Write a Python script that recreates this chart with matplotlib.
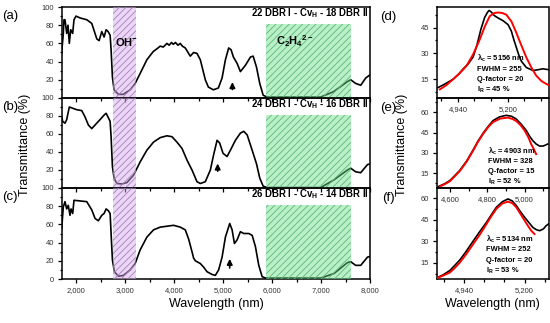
import matplotlib
matplotlib.use('Agg')
import matplotlib.pyplot as plt
from matplotlib.ticker import MultipleLocator, FixedLocator, FuncFormatter
from matplotlib.patches import Rectangle

plt.rcParams['font.family'] = ['Liberation Sans', 'DejaVu Sans']
plt.rcParams['mathtext.fontset'] = 'custom'
plt.rcParams['mathtext.rm'] = 'Liberation Sans:bold'
plt.rcParams['mathtext.it'] = 'Liberation Sans:bold'
plt.rcParams['mathtext.bf'] = 'Liberation Sans:bold'
plt.rcParams['mathtext.default'] = 'bf'
plt.rcParams['hatch.linewidth'] = 0.6

# ---- left spectra (nm, %) ----
wl_a = [1693, 1740, 1754, 1775, 1810, 1836, 1863, 1892, 1932, 1959, 2000, 2082, 2150, 2219, 2321,
        2424, 2471, 2526, 2573, 2614, 2655, 2696, 2716, 2743, 2777, 2865, 2962, 3105, 3207, 3309,
        3446, 3575, 3650, 3719, 3780, 3856, 3900, 3950, 3985, 4030, 4080, 4128, 4170, 4230, 4332,
        4400, 4469, 4537, 4639, 4701, 4803, 4905, 4981, 5049, 5116, 5165, 5212, 5288, 5355, 5458,
        5560, 5615, 5683, 5750, 5820, 5902, 6992, 7258, 7539, 7606, 7708, 7811, 7913, 8015]
tr_a = [42, 70, 86, 86, 71, 80, 60, 75, 71, 86, 90, 88, 87, 86, 82,
        65, 63, 73, 67, 75, 73, 69, 53, 23, 9, 4, 4, 9, 16, 27,
        42, 51, 54, 57, 56, 60, 58, 61, 59, 61, 58, 60, 57, 55, 46,
        50, 49, 42, 20, 12, 9, 11, 22, 42, 55, 53, 45, 38, 29, 36,
        45, 46, 34, 16, 3, 1, 1, 7, 18, 20, 16, 14, 22, 26]

wl_b = [1693, 1728, 1775, 1810, 1863, 1912, 2014, 2117, 2184, 2252, 2321, 2389, 2491, 2573, 2614,
        2661, 2696, 2716, 2743, 2777, 2833, 2935, 3037, 3172, 3309, 3446, 3582, 3719, 3856, 3958,
        4060, 4163, 4265, 4367, 4469, 4537, 4639, 4742, 4809, 4879, 4932, 5001, 5083, 5151, 5253,
        5355, 5423, 5493, 5595, 5683, 5750, 5820, 5902, 6992, 7264, 7539, 7606, 7708, 7811, 7948, 8015]
tr_b = [83, 74, 72, 76, 90, 89, 87, 86, 79, 70, 66, 70, 76, 81, 83,
        78, 74, 57, 24, 11, 5, 4.5, 6, 14, 29, 42, 51, 56, 58, 57,
        51, 44, 31, 20, 7, 5, 7, 20, 37, 53, 50, 38.5, 35, 42, 53,
        61, 63, 59, 42, 27, 11, 2, 0.5, 0.5, 9, 20, 22, 18, 17, 26, 27]

wl_c = [1707, 1740, 1775, 1810, 1842, 1877, 1898, 1932, 1959, 2047, 2219, 2321, 2389, 2456, 2526,
        2573, 2614, 2661, 2696, 2716, 2743, 2784, 2865, 2968, 3105, 3207, 3309, 3446, 3582, 3719,
        3856, 3991, 4128, 4230, 4298, 4367, 4400, 4435, 4537, 4605, 4674, 4776, 4844, 4911, 4981,
        5049, 5137, 5186, 5233, 5288, 5355, 5423, 5525, 5595, 5662, 5730, 5799, 5867, 6992, 7264,
        7539, 7606, 7708, 7811, 7948, 8015]
tr_c = [55, 79, 85, 77, 81, 70, 77, 72, 86.5, 86, 85, 76, 66.5, 64, 70,
        72, 77, 75, 72, 50, 21, 8, 3, 4, 10, 17, 32, 46, 54, 57,
        58, 59, 57, 54, 44, 30, 23, 20, 17, 13, 8, 5, 4, 10, 24,
        46, 61, 54, 39, 43, 52, 50, 50, 48, 35.5, 15, 2.5, 1, 1, 6,
        18, 19, 15, 15, 24, 25]

left_wl = [wl_a, wl_b, wl_c]
left_tr = [tr_a, tr_b, tr_c]
left_tags = ['(a)', '(b)', '(c)']
stack_labels = ['22 DBR I - Cv$_H$ - 18 DBR II',
                '24 DBR I - Cv$_H$ - 16 DBR II',
                '26 DBR I - Cv$_H$ - 14 DBR II']
arrow_x = [5192, 4891, 5137]
arrow_tail = [6.3, 15.6, 9.1]
arrow_head = [20.5, 30.3, 25.2]
oh_band = (2757, 3228)
c2h4_band = (5887, 7606)

# ---- right zooms: measured (black) and fit (red) ----
d_wl = [4835, 4870, 4916, 4945, 4968, 4995, 5020, 5040, 5060, 5080, 5095, 5103, 5115, 5130, 5150,
        5176, 5202, 5219, 5232, 5245, 5258, 5271, 5297, 5332, 5360, 5384, 5413]
d_tr = [10, 12, 15, 18, 21, 24, 28, 35, 44, 51, 54, 55, 54, 52, 50.6,
        49, 46.7, 43, 38, 33.5, 29, 25.5, 21.8, 20, 20.5, 21, 20.5]
d_fit_wl = [4846, 4880, 4916, 4950, 4985, 5020, 5054, 5080, 5106, 5130, 5150, 5172, 5193, 5220,
            5245, 5270, 5297, 5325, 5349, 5375, 5392, 5413]
d_fit_tr = [9, 11.5, 15, 18.5, 22.7, 29.5, 38, 45.5, 51.6, 53.5, 53.8, 53.5, 52.5, 48.5,
            42, 35, 27.7, 21.5, 17, 14, 12.8, 11.5]

e_wl = [4538, 4570, 4600, 4625, 4653, 4690, 4724, 4750, 4778, 4805, 4831, 4865, 4902, 4930, 4955,
        4983, 5009, 5028, 5044, 5062, 5080, 5100, 5124]
e_tr = [5, 7, 9.5, 13, 17, 24, 32, 38.5, 44.5, 49.5, 53.8, 56.5, 57.7, 57, 55,
        51, 46.5, 42, 39, 36.5, 35, 35, 36.5]
e_fit_wl = [4547, 4575, 4600, 4625, 4653, 4690, 4724, 4750, 4778, 4805, 4831, 4870, 4911, 4935,
            4955, 4978, 5000, 5020, 5035, 5050, 5062]
e_fit_tr = [5.2, 7, 9, 12.5, 16.5, 23.5, 31.5, 38, 44, 49, 52.7, 55.3, 56, 55,
            53.5, 50.5, 46.5, 41.5, 36.5, 32.5, 29]

f_wl = [4824, 4850, 4880, 4900, 4923, 4948, 4973, 5005, 5037, 5060, 5079, 5105, 5129, 5147, 5164,
        5182, 5200, 5218, 5235, 5250, 5264, 5280, 5292, 5302]
f_tr = [4.5, 6.5, 9.6, 13, 17, 22.5, 28.5, 36, 43.2, 49, 53.6, 57.5, 59.4, 58, 54.8,
        50.5, 46.6, 43, 39.6, 38, 37.3, 38.5, 40.8, 42]
f_fit_wl = [4824, 4850, 4880, 4900, 4923, 4950, 4980, 5010, 5037, 5060, 5079, 5105, 5129, 5147,
            5164, 5182, 5200, 5215, 5228, 5242]
f_fit_tr = [4.3, 6, 8.2, 11.2, 15.2, 21, 28, 35, 42, 48, 52.5, 56.3, 57.5, 56.5,
            53.6, 49, 44.3, 40.5, 37.3, 35]

right_data = [(d_wl, d_tr, d_fit_wl, d_fit_tr), (e_wl, e_tr, e_fit_wl, e_fit_tr),
              (f_wl, f_tr, f_fit_wl, f_fit_tr)]
right_tags = ['(d)', '(e)', '(f)']
right_xlim = [(4831, 5413), (4531, 5128), (4825, 5302)]
right_ylim = [(4, 57), (4, 70.5), (3.7, 67)]
right_xmajor = [[4940, 5200], [4600, 4800, 5000], [4940, 5200]]
right_xminor = [260 / 3, 100, 260 / 3]
fit_info = [['λ$_c$ = 5156 nm', 'FWHM = 255', 'Q-factor = 20', 'I$_R$ = 45 %'],
            ['λ$_c$ = 4903 nm', 'FWHM = 328', 'Q-factor = 15', 'I$_R$ = 52 %'],
            ['λ$_c$ = 5134 nm', 'FWHM = 252', 'Q-factor = 20', 'I$_R$ = 53 %']]
info_x = [0.36, 0.457, 0.44]
info_y = [[0.43, 0.31, 0.2, 0.09], [0.41, 0.295, 0.185, 0.07], [0.44, 0.32, 0.2, 0.09]]

W, H = 550.0, 323.0
left_rows = [(7, 98), (98, 188), (188, 279)]

fig = plt.figure(figsize=(5.5, 3.23), dpi=100)
thousands = FuncFormatter(lambda v, p: f'{v:,.0f}')


def style_ax(ax):
    for s in ax.spines.values():
        s.set_linewidth(1.1)
    ax.set_facecolor('none')
    ax.tick_params(which='both', direction='out', labelsize=5.5, width=0.9, pad=2.5,
                   labelcolor='#333333')
    ax.tick_params(which='major', length=3)
    ax.tick_params(which='minor', length=1.8)


for i in range(3):
    top, bot = left_rows[i]
    ax = fig.add_axes([62 / W, 1 - bot / H, 308 / W, (bot - top) / H])
    style_ax(ax)
    ax.plot(left_wl[i], left_tr[i], color='black', lw=1.2, zorder=2)
    ax.axvspan(*oh_band, facecolor='#d3a7e9', alpha=0.45, lw=0, zorder=3)
    ax.axvspan(*oh_band, facecolor='none', edgecolor='#a57fbd', hatch='/////', lw=0, zorder=4)
    ax.add_patch(Rectangle((c2h4_band[0], 0), c2h4_band[1] - c2h4_band[0], 81,
                           facecolor='#64de85', alpha=0.45, lw=0, zorder=3))
    ax.add_patch(Rectangle((c2h4_band[0], 0), c2h4_band[1] - c2h4_band[0], 81,
                           facecolor='none', edgecolor='#5fb57a', hatch='/////', lw=0, zorder=4))
    ax.annotate('', xy=(arrow_x[i], arrow_head[i]), xytext=(arrow_x[i], arrow_tail[i]),
                arrowprops=dict(arrowstyle='-|>', color='black', lw=1.2, mutation_scale=8),
                zorder=5)
    ax.text(0.995, 0.93, stack_labels[i], transform=ax.transAxes, ha='right', va='center',
            fontsize=6.9, fontweight='bold', zorder=6)
    ax.set_xlim(1714, 8000)
    ax.set_ylim(0, 100)
    ax.xaxis.set_major_locator(MultipleLocator(1000))
    ax.xaxis.set_minor_locator(MultipleLocator(500))
    ax.xaxis.set_major_formatter(thousands)
    ax.yaxis.set_major_locator(FixedLocator([0, 20, 40, 60, 80, 100] if i == 2 else [20, 40, 60, 80, 100]))
    ax.yaxis.set_minor_locator(MultipleLocator(10))
    if i < 2:
        ax.tick_params(axis='x', labelbottom=False)
    fig.text(10 / W, 1 - (top + 9) / H, left_tags[i], fontsize=9.5, ha='center', va='center')
    if i == 0:
        ax.text(2800, 62, 'OH$^{-}$', fontsize=8, fontweight='bold', ha='left', va='center', zorder=6)
        ax.text(6080, 62, 'C$_2$H$_4$$^{2-}$', fontsize=8, fontweight='bold', ha='left',
                va='center', zorder=6)
    if i == 2:
        ax.set_xlabel('Wavelength (nm)', fontsize=9, labelpad=3)

for i in range(3):
    top, bot = left_rows[i]
    ax = fig.add_axes([437 / W, 1 - bot / H, 111.5 / W, (bot - top) / H])
    style_ax(ax)
    wl, tr, fwl, ftr = right_data[i]
    ax.plot(wl, tr, color='black', lw=1.2, zorder=2)
    ax.plot(fwl, ftr, color='red', lw=1.4, zorder=3)
    ax.set_xlim(*right_xlim[i])
    ax.set_ylim(*right_ylim[i])
    ax.xaxis.set_major_locator(FixedLocator(right_xmajor[i]))
    ax.xaxis.set_minor_locator(MultipleLocator(right_xminor[i], offset=right_xmajor[i][0] % right_xminor[i]))
    ax.xaxis.set_major_formatter(thousands)
    ax.yaxis.set_major_locator(MultipleLocator(15))
    ax.yaxis.set_minor_locator(MultipleLocator(7.5))
    for k, line in enumerate(fit_info[i]):
        ax.text(info_x[i], info_y[i][k], line, transform=ax.transAxes, fontsize=5.4,
                fontweight='bold', ha='left', va='center', zorder=6)
    fig.text(388 / W, 1 - (top + 10) / H, right_tags[i], fontsize=9.5, ha='center', va='center')
    if i == 2:
        ax.set_xlabel('Wavelength (nm)', fontsize=9, labelpad=3)

fig.text(25 / W, 1 - 145 / H, 'Transmittance (%)', rotation=90, fontsize=9, ha='center', va='center')
fig.text(402 / W, 1 - 145 / H, 'Transmittance (%)', rotation=90, fontsize=9, ha='center', va='center')

fig.savefig('out.png', dpi=100)
